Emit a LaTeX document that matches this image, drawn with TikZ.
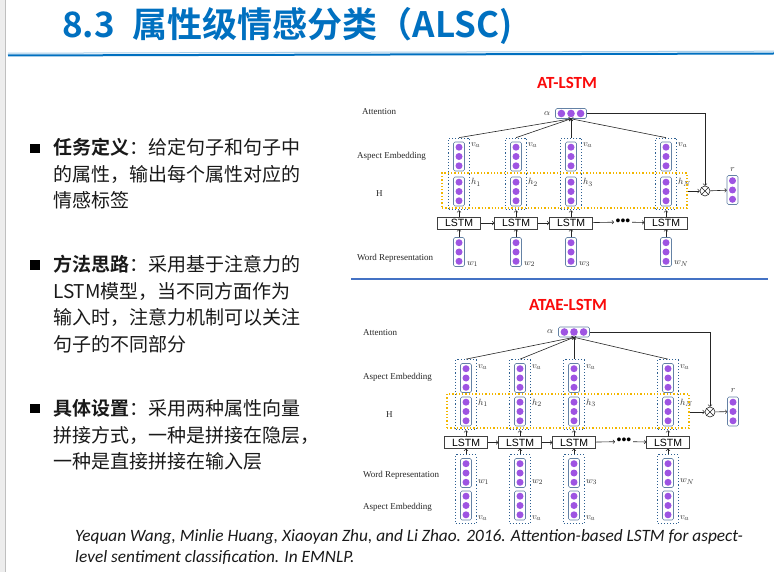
\documentclass[tikz,border=0pt]{standalone}
\usepackage{fontspec}
\setmainfont{Liberation Serif}
\newfontfamily\cjk[BoldFont={Noto Sans CJK SC Bold}]{Noto Sans CJK SC}
\newfontfamily\calib{Carlito}
\newfontfamily\arialf{Liberation Sans}
\usetikzlibrary{positioning,fit}
\definecolor{titleblue}{RGB}{0,112,192}
\definecolor{sepblue}{RGB}{68,114,196}
\definecolor{dotpurple}{RGB}{158,84,226}
\definecolor{vecline}{RGB}{100,130,165}
\definecolor{colblue}{RGB}{45,95,145}
\definecolor{hyellow}{RGB}{242,182,0}
\definecolor{nettitle}{RGB}{250,10,10}
\tikzset{
  vecbox/.style={draw=vecline, line width=0.6pt, rounded corners=1.5pt, minimum width=11pt, minimum height=29pt, inner sep=0pt,
    path picture={\foreach \d in {-9.3pt,0pt,9.3pt} \fill[dotpurple] ([yshift=\d]path picture bounding box.center) circle (3.5pt);}},
  hvecbox/.style={draw=vecline, line width=0.6pt, rounded corners=1.5pt, minimum width=31pt, minimum height=10pt, inner sep=0pt,
    path picture={\foreach \d in {-9.6pt,0pt,9.6pt} \fill[dotpurple] ([xshift=\d]path picture bounding box.center) circle (3.8pt);}},
  colbox/.style={draw=colblue, dotted, line width=1.1pt, inner xsep=4.5pt, inner ysep=3.5pt},
  hbox/.style={draw=hyellow, dotted, line width=1.3pt, inner sep=0pt},
  lstm/.style={draw=black!75, line width=0.6pt, fill=white, minimum width=43pt, minimum height=12pt, inner sep=0pt, font=\arialf\fontsize{10.5}{10.5}\selectfont},
  stage/.style={anchor=west, inner sep=0pt, text=black!85, font=\fontsize{9}{9}\selectfont},
  sym/.style={inner sep=0pt, text=black!80, font=\fontsize{9.5}{10}\selectfont},
  link/.style={->, line width=0.6pt, draw=black!85},
  otimes/.style={circle, draw=black!85, line width=0.6pt, minimum size=10pt, inner sep=0pt,
    path picture={\draw[black!85, line width=0.6pt] (path picture bounding box.north west) -- (path picture bounding box.south east) (path picture bounding box.north east) -- (path picture bounding box.south west);}},
  sqbullet/.style={fill=black, minimum size=9.5pt, inner sep=0pt},
  para/.style={anchor=base west, inner sep=0pt, align=left, text=black!90, font=\cjk\fontsize{19}{26.5}\selectfont},
  nettitle/.style={inner sep=0pt, text=nettitle, font=\calib\bfseries\fontsize{17}{17}\selectfont}
}
\begin{document}
\begin{tikzpicture}[x=1pt,y=-1pt]
\useasboundingbox (0,0) rectangle (774,572);
\fill[white] (0,0) rectangle (774,572);
\fill[black!7] (0,0) rectangle (5,572);
\draw[black!25, line width=0.8pt] (5.5,0) -- (5.5,572);

% title
\node[anchor=base west, inner sep=0pt, text=titleblue, font=\cjk\bfseries\fontsize{35}{35}\selectfont] (title) at (62,38) {8.3\hspace{18pt}属性级情感分类（ALSC)};
\draw[titleblue!35, line width=1pt] (8,53.2) -- (774,51.2);
\draw[titleblue, line width=2pt] (8,55.5) -- (774,53.5);

% left text (base = last line)
\node[sqbullet] (b1) at (35,148.5) {};
\node[para] (p1) at (53,208) {\textbf{任务定义}：给定句子和句子中\\的属性，输出每个属性对应的\\情感标签};
\node[sqbullet] (b2) at (35,265) {};
\node[para] (p2) at (53,351.3) {\textbf{方法思路}：采用基于注意力的\\LSTM模型，当不同方面作为\\输入时，注意力机制可以关注\\句子的不同部分};
\node[sqbullet] (b3) at (35,408.5) {};
\node[para] (p3) at (53,468.5) {\textbf{具体设置}：采用两种属性向量\\拼接方式，一种是拼接在隐层，\\一种是直接拼接在输入层};

% AT-LSTM
\node[nettitle] (ttA) at (567,83) {AT-LSTM};
\node[stage] (sA1) at (362,112) {Attention};
\node[stage] (sA2) at (357,156) {Aspect Embedding};
\node[stage] (sA3) at (376,194) {H};
\node[stage] (sA4) at (357,258) {Word Representation};
\node[hvecbox] (aal) at (571,113.5) {};
\node[sym, left=5pt of aal] (aalab) {$\alpha$};
\foreach \i/\x/\s in {1/459/1,2/516/2,3/571/3,4/666/N} {
  \node[vecbox] (aa\i) at (\x,156.5) {};
  \node[vecbox] (ah\i) at (\x,191.5) {};
  \node[colbox, fit=(aa\i)(ah\i)] (ac\i) {};
  \node[lstm] (al\i) at (\x,223) {LSTM};
  \node[vecbox] (aw\i) at (\x,252) {};
  \node[sym, anchor=north west] (ava\i) at ([xshift=6pt,yshift=-1pt]aa\i.north east) {$v_a$};
  \node[sym, anchor=north west] (ahl\i) at ([xshift=6pt,yshift=-1.5pt]ah\i.north east) {$h_\s$};
  \node[sym, anchor=south west] (awl\i) at ([xshift=2pt]aw\i.south east) {$w_\s$};
  \draw[link] (aw\i) -- (al\i);
  \draw[link] (al\i) -- (ac\i);
  \draw[link] (ac\i.north) -- (aal.south);
}
\node[hbox, fit={(442,173) (687,208)}] (ay) {};
\node[inner sep=1.5pt, font=\arialf\fontsize{14}{14}\selectfont] (adots) at (623,222) {•••};
\draw[link] (al1) -- (al2);
\draw[link] (al2) -- (al3);
\draw[link] (al3) -- (adots);
\draw[link] (adots) -- (al4);
\node[otimes] (aot) at (705,191) {};
\node[vecbox] (ar) at (732.5,190) {};
\node[sym, above=3pt of ar] (arlab) {$r$};
\draw[link] (aal.east) -| (aot.north);
\draw[link] (ay.east |- aot) -- (aot.west);
\draw[link] (aot) -- (ar);

\draw[sepblue, line width=2pt] (351,279.5) -- (768,279.5);

% ATAE-LSTM
\node[nettitle] (ttB) at (568,305) {ATAE-LSTM};
\node[stage] (sB1) at (363,333) {Attention};
\node[stage] (sB2) at (363,377) {Aspect Embedding};
\node[stage] (sB3) at (386,415) {H};
\node[stage] (sB4) at (363,475) {Word Representation};
\node[stage] (sB5) at (363,507) {Aspect Embedding};
\node[hvecbox] (bal) at (574,332) {};
\node[sym, left=5pt of bal] (balab) {$\alpha$};
\foreach \i/\x/\s in {1/466/1,2/520/2,3/574/3,4/668/N} {
  \node[vecbox] (ba\i) at (\x,378) {};
  \node[vecbox] (bh\i) at (\x,411.5) {};
  \node[colbox, fit=(ba\i)(bh\i)] (bc\i) {};
  \node[lstm] (bl\i) at (\x,442.5) {LSTM};
  \node[vecbox] (bw\i) at (\x,473) {};
  \node[vecbox] (bs\i) at (\x,505.5) {};
  \node[colbox, fit=(bw\i)(bs\i)] (bd\i) {};
  \node[sym, anchor=north west] (bva\i) at ([xshift=6pt,yshift=-1pt]ba\i.north east) {$v_a$};
  \node[sym, anchor=north west] (bhl\i) at ([xshift=6pt,yshift=-2pt]bh\i.north east) {$h_\s$};
  \node[sym, anchor=south west] (bwl\i) at ([xshift=6pt,yshift=3pt]bw\i.south east) {$w_\s$};
  \node[sym, anchor=south west] (bvs\i) at ([xshift=6pt]bs\i.south east) {$v_a$};
  \draw[link] (bd\i) -- (bl\i);
  \draw[link] (bl\i) -- (bc\i);
  \draw[link] (bc\i.north) -- (bal.south);
}
\node[hbox, fit={(447,394) (689,428)}] (by) {};
\node[inner sep=1.5pt, font=\arialf\fontsize{14}{14}\selectfont] (bdots) at (624,441.5) {•••};
\draw[link] (bl1) -- (bl2);
\draw[link] (bl2) -- (bl3);
\draw[link] (bl3) -- (bdots);
\draw[link] (bdots) -- (bl4);
\node[otimes] (bot) at (710,412) {};
\node[vecbox] (br) at (733,411.5) {};
\node[sym, above=4pt of br] (brlab) {$r$};
\draw[link] (bal.east) -| (bot.north);
\draw[link] (by.east |- bot) -- (bot.west);
\draw[link] (bot) -- (br);

% citation (base = last line)
\node[anchor=base west, inner sep=0pt, align=left, text=black!90, font=\calib\itshape\fontsize{17.3}{21}\selectfont] (cite) at (75,562) {Yequan Wang, Minlie Huang, Xiaoyan Zhu, and Li Zhao. 2016. Attention-based LSTM for aspect-\\level sentiment classification. In EMNLP.};
\end{tikzpicture}
\end{document}
